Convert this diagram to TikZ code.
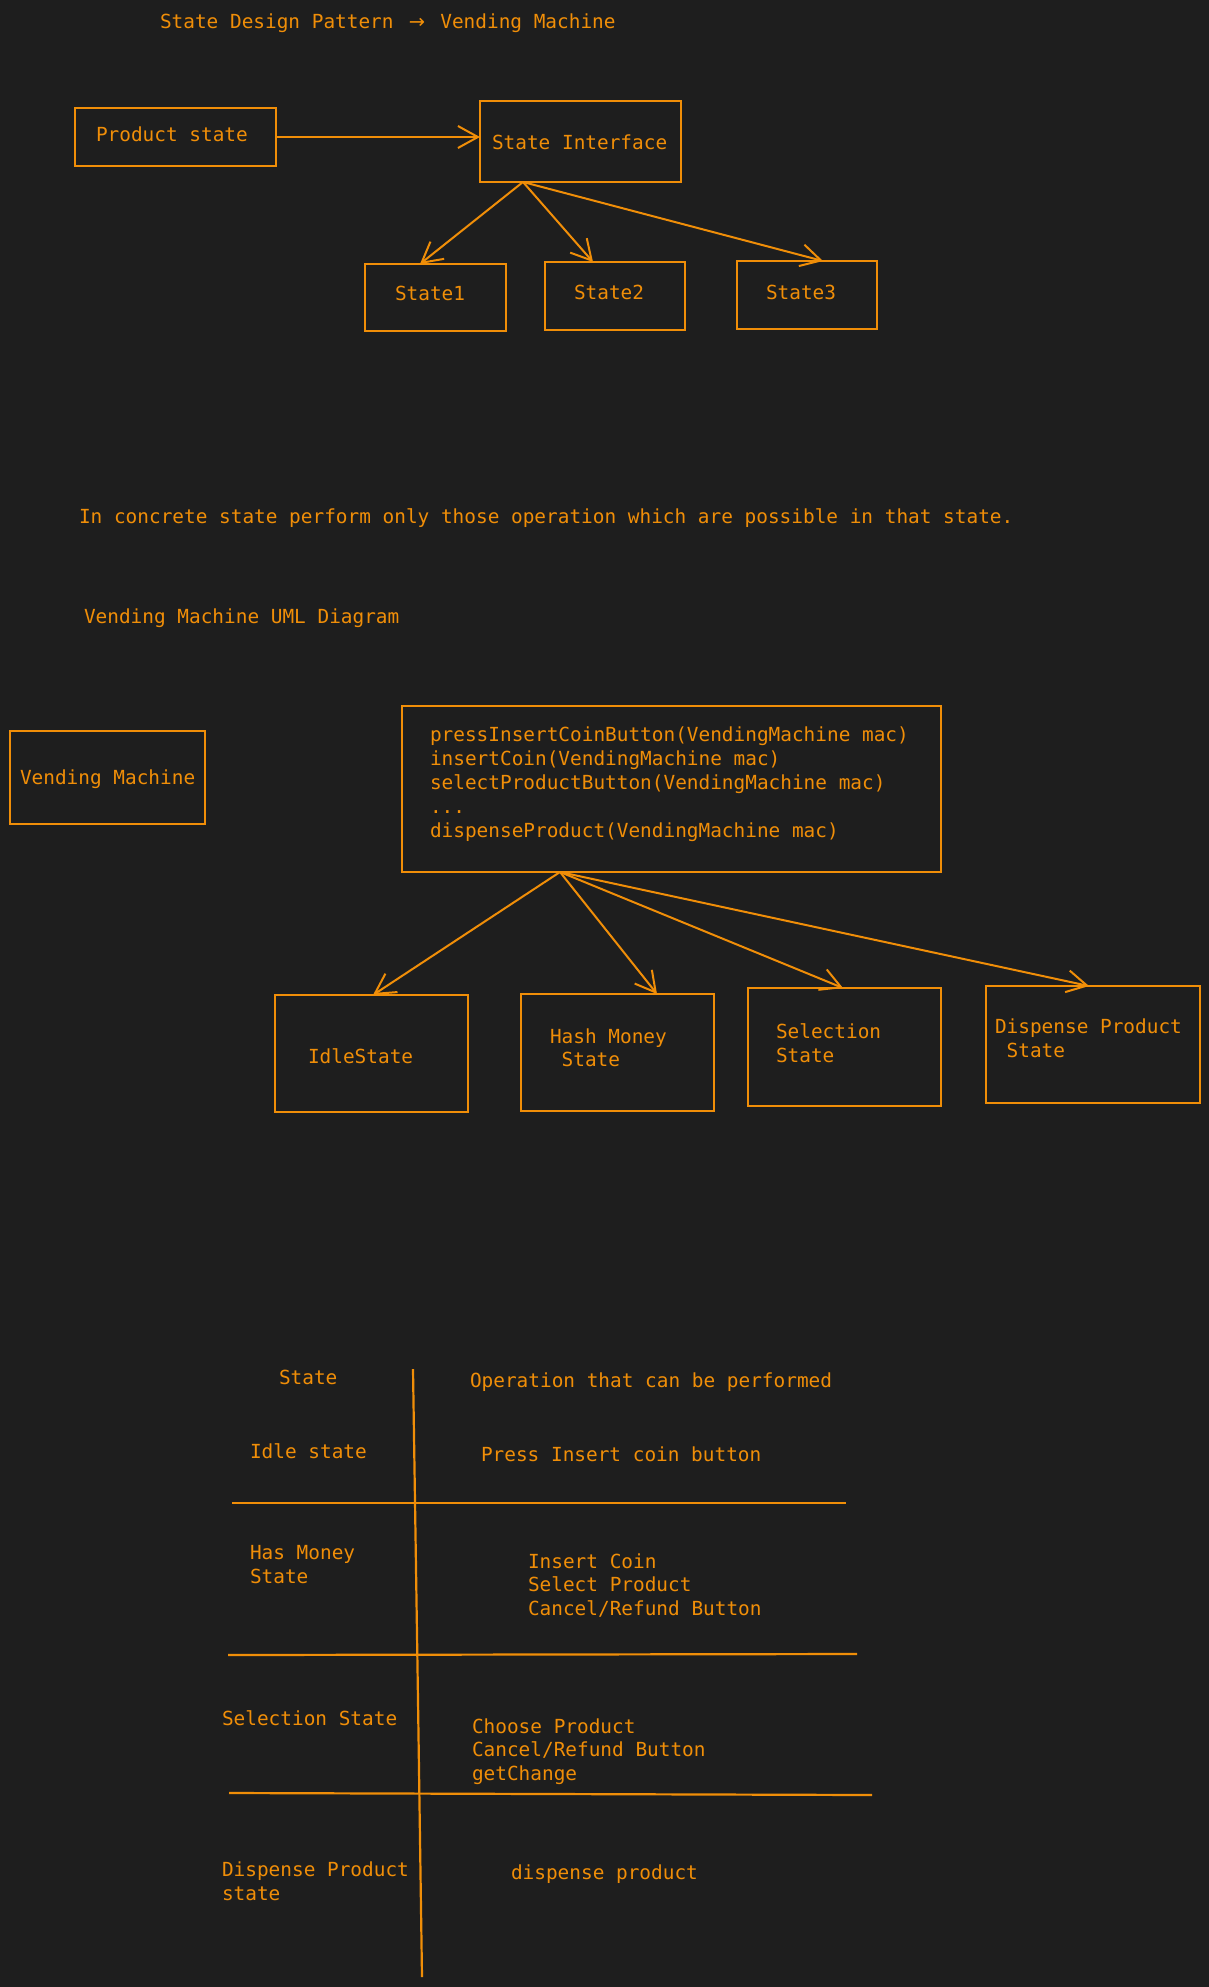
\documentclass[tikz,border=0pt]{standalone}
\usepackage{fontspec}
\newfontfamily\mono{DejaVu Sans Mono}
\newfontfamily\symb{DejaVu Sans}
\usetikzlibrary{arrows.meta,fit,calc}
\definecolor{canvas}{RGB}{30,30,30}
\definecolor{ink}{RGB}{240,142,8}
\tikzset{
  every node/.style={inner sep=0pt, outer sep=0pt},
  box/.style={draw=ink, line width=2.2pt, inner sep=0pt},
  txt/.style={anchor=base west, text=ink, font=\mono\fontsize{19.4}{24}\selectfont},
  conn/.style={draw=ink, line width=2pt, -{Straight Barb[length=20pt,width=22pt,line width=2pt]}},
  rule/.style={draw=ink, line width=2.2pt}
}
% an arrow glyph taking two character cells, as a ligature would
\newcommand{\wideto}{\makebox[23.4pt][c]{\symb →}}
\begin{document}
\begin{tikzpicture}[x=1pt,y=-1pt]
\fill[canvas] (0,0) rectangle (1209,1987);
\useasboundingbox (0,0) rectangle (1209,1987);

% heading
\node[txt] (title) at (160,28) {State Design Pattern \wideto{} Vending Machine};

% state interface overview
\node[box, fit={(75,108) (276,166)}] (ps) {};
\node[txt] (pst) at (96,141) {Product state};
\node[box, fit={(480,101) (681,182)}] (si) {};
\node[txt] (sit) at (492,149) {State Interface};
\node[box, fit={(365,264) (506,331)}] (s1) {};
\node[txt] (s1t) at (395,300) {State1};
\node[box, fit={(545,262) (685,330)}] (s2) {};
\node[txt] (s2t) at (574,299) {State2};
\node[box, fit={(737,261) (877,329)}] (s3) {};
\node[txt] (s3t) at (766,299) {State3};

\draw[conn] (ps.east) -- (ps.east -| si.west);
\coordinate (ifo) at ($(si.south west)+(43,0)$);
\coordinate (t1) at ($(s1.north west)+(55,0)$);
\coordinate (t2) at ($(s2.north west)+(48,0)$);
\coordinate (t3) at ($(s3.north west)+(86,0)$);
\draw[conn] (ifo) -- (t1);
\draw[conn] (ifo) -- (t2);
\draw[conn] (ifo) -- (t3);

% notes
\node[txt] (note) at (79,523) {In concrete state perform only those operation which are possible in that state.};
\node[txt] (uml) at (84,623) {Vending Machine UML Diagram};

% UML diagram
\node[box, fit={(10,731) (205,824)}] (vm) {};
\node[txt] (vmt) at (20,784) {Vending Machine};
\node[box, fit={(402,706) (941,872)}] (ops) {};
\node[txt] (op1) at (430,741) {pressInsertCoinButton(VendingMachine mac)};
\node[txt] (op2) at (430,765) {insertCoin(VendingMachine mac)};
\node[txt] (op3) at (430,789) {selectProductButton(VendingMachine mac)};
\node[txt] (op4) at (430,813) {...};
\node[txt] (op5) at (430,837) {dispenseProduct(VendingMachine mac)};

\node[box, fit={(275,995) (468,1112)}] (idle) {};
\node[txt] (idlet) at (308,1063) {IdleState};
\node[box, fit={(521,994) (714,1111)}] (hm) {};
\node[txt] (hmt1) at (550,1043) {Hash Money};
\node[txt] (hmt2) at (550,1066) {\ State};
\node[box, fit={(748,988) (941,1106)}] (sel) {};
\node[txt] (selt1) at (776,1038) {Selection};
\node[txt] (selt2) at (776,1062) {State};
\node[box, fit={(986,986) (1200,1103)}] (dp) {};
\node[txt] (dpt1) at (995,1033) {Dispense Product};
\node[txt] (dpt2) at (995,1057) {\ State};

\coordinate (opo) at ($(ops.south west)+(158,0)$);
\coordinate (u1) at ($(idle.north west)+(98,0)$);
\coordinate (u2) at ($(hm.north west)+(136,0)$);
\coordinate (u3) at ($(sel.north west)+(95,0)$);
\coordinate (u4) at ($(dp.north west)+(103,0)$);
\draw[conn] (opo) -- (u1);
\draw[conn] (opo) -- (u2);
\draw[conn] (opo) -- (u3);
\draw[conn] (opo) -- (u4);

% table of allowed operations
\draw[rule] (413,1369) -- (418,1700) -- (422,1977);
\draw[rule] (232,1503) -- (846,1503);
\draw[rule] (228,1655) -- (857,1654);
\draw[rule] (229,1793) -- (872,1795);

\node[txt] (h1) at (279,1384) {State};
\node[txt] (h2) at (470,1387) {Operation that can be performed};
\node[txt] (r1a) at (250,1458) {Idle state};
\node[txt] (r1b) at (481,1461) {Press Insert coin button};
\node[txt] (r2a1) at (250,1559) {Has Money};
\node[txt] (r2a2) at (250,1583) {State};
\node[txt] (r2b1) at (528,1568) {Insert Coin};
\node[txt] (r2b2) at (528,1591) {Select Product};
\node[txt] (r2b3) at (528,1615) {Cancel/Refund Button};
\node[txt] (r3a) at (222,1725) {Selection State};
\node[txt] (r3b1) at (472,1733) {Choose Product};
\node[txt] (r3b2) at (472,1756) {Cancel/Refund Button};
\node[txt] (r3b3) at (472,1780) {getChange};
\node[txt] (r4a1) at (222,1876) {Dispense Product};
\node[txt] (r4a2) at (222,1900) {state};
\node[txt] (r4b) at (511,1879) {dispense product};
\end{tikzpicture}
\end{document}
